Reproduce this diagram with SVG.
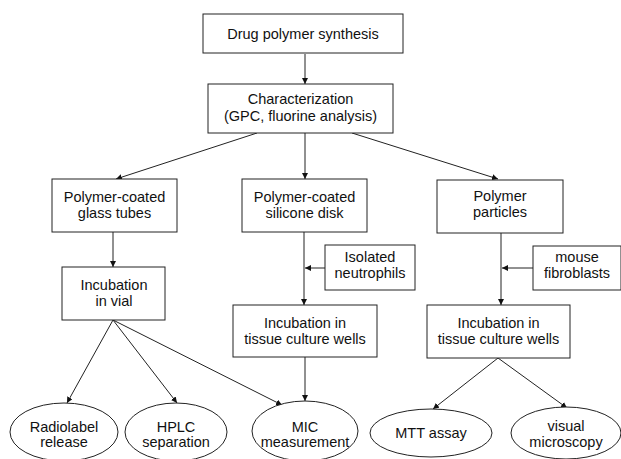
<svg xmlns="http://www.w3.org/2000/svg" width="621" height="459" viewBox="0 0 621 459">
<defs>
<style>
.box{fill:#fff;stroke:#222;stroke-width:1}
.ell{fill:#fff;stroke:#222;stroke-width:1}
.t{font-family:"Liberation Sans",Arial,sans-serif;font-size:14.5px;fill:#111;text-anchor:middle}
.c{fill:none;stroke:#222;stroke-width:1}
</style>
<marker id="ah" viewBox="0 0 10 10" refX="10" refY="5" markerWidth="6" markerHeight="6" orient="auto" markerUnits="userSpaceOnUse">
<path d="M0,0 L10,5 L0,10 z" fill="#111"/>
</marker>
</defs>
<rect width="621" height="459" fill="#fff"/>
<g id="connectors">
<line class="c" x1="305" y1="54" x2="305" y2="84" marker-end="url(#ah)"/>
<line class="c" x1="257" y1="133" x2="116" y2="179" marker-end="url(#ah)"/>
<line class="c" x1="305" y1="133" x2="305" y2="179" marker-end="url(#ah)"/>
<line class="c" x1="352" y1="133" x2="498" y2="179" marker-end="url(#ah)"/>
<line class="c" x1="113" y1="232" x2="113" y2="267" marker-end="url(#ah)"/>
<line class="c" x1="304" y1="232" x2="304" y2="305" marker-end="url(#ah)"/>
<line class="c" x1="325" y1="268" x2="305" y2="268" marker-end="url(#ah)"/>
<line class="c" x1="501" y1="233" x2="501" y2="305" marker-end="url(#ah)"/>
<line class="c" x1="533" y1="268" x2="502" y2="268" marker-end="url(#ah)"/>
<line class="c" x1="113" y1="320" x2="67" y2="403" marker-end="url(#ah)"/>
<line class="c" x1="113" y1="320" x2="177" y2="403" marker-end="url(#ah)"/>
<line class="c" x1="113" y1="320" x2="282" y2="405" marker-end="url(#ah)"/>
<line class="c" x1="305" y1="357" x2="305" y2="401" marker-end="url(#ah)"/>
<line class="c" x1="498" y1="358" x2="433" y2="409" marker-end="url(#ah)"/>
<line class="c" x1="498" y1="358" x2="567" y2="408" marker-end="url(#ah)"/>
</g>
<g id="synthesis">
<rect class="box" x="203" y="14" width="200" height="39"/>
<text class="t" x="303" y="39">Drug polymer synthesis</text>
</g>
<g id="characterization">
<rect class="box" x="208" y="84" width="185" height="49"/>
<text class="t" x="300.5" y="104">Characterization</text>
<text class="t" x="300.5" y="121">(GPC, fluorine analysis)</text>
</g>
<g id="glass-tubes">
<rect class="box" x="52" y="179" width="125" height="53"/>
<text class="t" x="114.5" y="202">Polymer-coated</text>
<text class="t" x="114.5" y="218">glass tubes</text>
</g>
<g id="silicone-disk">
<rect class="box" x="242" y="179" width="125" height="53"/>
<text class="t" x="304.5" y="202">Polymer-coated</text>
<text class="t" x="304.5" y="218">silicone disk</text>
</g>
<g id="particles">
<rect class="box" x="437" y="180" width="126" height="53"/>
<text class="t" x="500" y="201">Polymer</text>
<text class="t" x="500" y="217">particles</text>
</g>
<g id="neutrophils">
<rect class="box" x="325" y="245" width="90" height="45"/>
<text class="t" x="370" y="262">Isolated</text>
<text class="t" x="370" y="278">neutrophils</text>
</g>
<g id="fibroblasts">
<rect class="box" x="533" y="246" width="88" height="44"/>
<text class="t" x="577" y="262">mouse</text>
<text class="t" x="577" y="278">fibroblasts</text>
</g>
<g id="incubation-vial">
<rect class="box" x="62" y="267" width="103" height="53"/>
<text class="t" x="114" y="290">Incubation</text>
<text class="t" x="114" y="306">in vial</text>
</g>
<g id="incubation-wells-1">
<rect class="box" x="233" y="305" width="144" height="52"/>
<text class="t" x="305" y="328">Incubation in</text>
<text class="t" x="305" y="344">tissue culture wells</text>
</g>
<g id="incubation-wells-2">
<rect class="box" x="427" y="305" width="143" height="53"/>
<text class="t" x="498.5" y="328">Incubation in</text>
<text class="t" x="498.5" y="344">tissue culture wells</text>
</g>
<g id="radiolabel">
<ellipse class="ell" cx="64" cy="432" rx="54" ry="29"/>
<text class="t" x="64" y="432">Radiolabel</text>
<text class="t" x="64" y="447">release</text>
</g>
<g id="hplc">
<ellipse class="ell" cx="176" cy="432" rx="51" ry="29"/>
<text class="t" x="176" y="432">HPLC</text>
<text class="t" x="176" y="447">separation</text>
</g>
<g id="mic">
<ellipse class="ell" cx="305" cy="431" rx="53" ry="30"/>
<text class="t" x="305" y="432">MIC</text>
<text class="t" x="305" y="447">measurement</text>
</g>
<g id="mtt">
<ellipse class="ell" cx="431" cy="433" rx="61" ry="24"/>
<text class="t" x="431" y="438">MTT assay</text>
</g>
<g id="microscopy">
<ellipse class="ell" cx="566" cy="433" rx="55" ry="26"/>
<text class="t" x="566" y="431">visual</text>
<text class="t" x="566" y="447">microscopy</text>
</g>
</svg>
